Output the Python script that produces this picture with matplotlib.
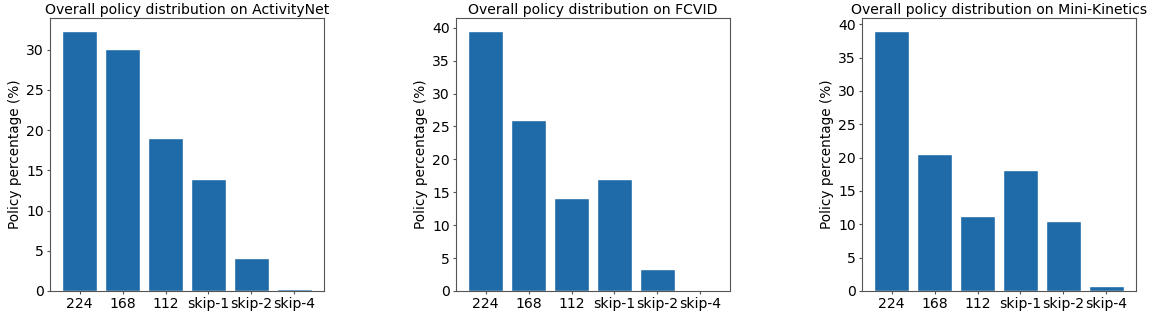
import numpy as np
import matplotlib.pyplot as plt
from matplotlib.ticker import MultipleLocator

policies = ['224', '168', '112', 'skip-1', 'skip-2', 'skip-4']
datasets = ['ActivityNet', 'FCVID', 'Mini-Kinetics']
activitynet = [32.3, 30.1, 19.0, 13.9, 4.15, 0.2]
fcvid = [39.5, 26.0, 14.2, 17.0, 3.4, 0.0]
mini_kinetics = [39.0, 20.55, 11.25, 18.1, 10.5, 0.75]

fig = plt.figure(figsize=(11.56, 3.13), dpi=100)
lefts = [50, 456, 862]
for i, vals in enumerate([activitynet, fcvid, mini_kinetics]):
    ax = fig.add_axes([lefts[i] / 1156, 22 / 313, 274 / 1156, 273 / 313])
    x = np.arange(len(policies))
    ax.bar(x, vals, width=0.8, color='#1f6aa8', edgecolor='white', linewidth=1)
    ax.set_xticks(x)
    ax.set_xticklabels(policies)
    ax.yaxis.set_major_locator(MultipleLocator(5))
    ax.tick_params(labelsize=10.1, length=2.5, pad=2, color='#555555')
    ax.set_ylabel('Policy percentage (%)', fontsize=9.8, labelpad=3)
    ax.set_title('Overall policy distribution on ' + datasets[i], fontsize=10.1, pad=3)
    for s in ax.spines.values():
        s.set_color('#555555')

plt.savefig('out.png', dpi=100)
